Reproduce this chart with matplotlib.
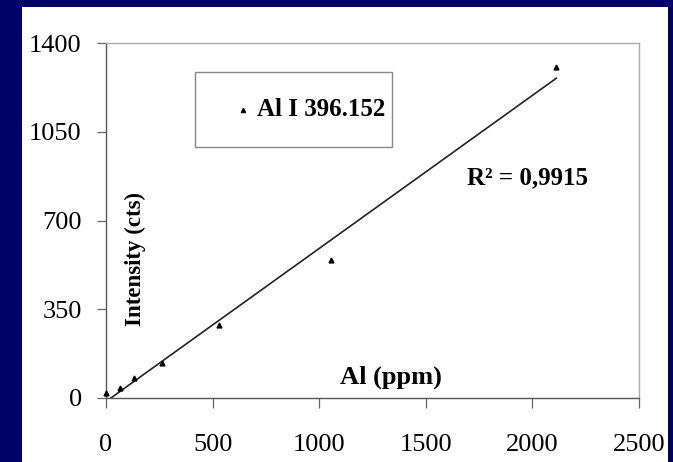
import numpy as np
import matplotlib
matplotlib.use("Agg")
import matplotlib.pyplot as plt
from matplotlib.patches import Rectangle

# Data
conc_ppm = [0, 66, 132, 264, 528, 1056, 2112]
intensity = [20, 40, 79, 139, 286, 544, 1305]
x_ticks = [0, 500, 1000, 1500, 2000, 2500]
y_ticks = [0, 350, 700, 1050, 1400]
series_name = "Al I 396.152"
r2_text = "R² = 0,9915"

serif = ["Liberation Serif", "DejaVu Serif"]

fig = plt.figure(figsize=(6.73, 4.62), dpi=100)
fig.patch.set_facecolor("#000066")
fig.patches.append(Rectangle((22/673, 0), 646/673, 455/462, transform=fig.transFigure,
                             facecolor="white", edgecolor="none", zorder=-10))

ax = fig.add_axes([106/673, 1-398/462, (639-106)/673, (398-43)/462])
ax.set_facecolor("white")

# fit line
a, b = np.polyfit(conc_ppm, intensity, 1)
xl = np.array([0, conc_ppm[-1]])
ax.plot(xl, a*xl + b, color="#222222", lw=1.2, zorder=2)
ax.plot(conc_ppm, intensity, linestyle="none", marker="^", ms=3.5, color="black", zorder=3, clip_on=False)

ax.set_xlim(0, 2500)
ax.set_ylim(0, 1400)
ax.set_xticks(x_ticks)
ax.set_yticks(y_ticks)
for lbl in ax.get_xticklabels() + ax.get_yticklabels():
    lbl.set_family(serif)
    lbl.set_fontsize(19)
ax.tick_params(axis="x", direction="out", length=7, width=0.9, color="#666666", pad=19)
ax.tick_params(axis="y", direction="out", length=6.5, width=0.9, color="#666666", pad=11)

for s in ["top", "right"]:
    ax.spines[s].set_color("#aaaaaa")
    ax.spines[s].set_linewidth(1.0)
for s in ["left", "bottom"]:
    ax.spines[s].set_color("#555555")
    ax.spines[s].set_linewidth(1.0)

# labels inside plot
fig.text(135/673, 1-259/462, "Intensity (cts)", rotation=90,
         ha="center", va="center", family=serif, fontweight="bold", fontsize=16.5)
fig.text(391/673, 1-377/462, "Al (ppm)",
         ha="center", va="center", family=serif, fontweight="bold", fontsize=19)
fig.text(467/673, 1-178/462, r2_text,
         ha="left", va="center", family=serif, fontweight="bold", fontsize=18)

# legend box
fig.patches.append(Rectangle((195/673, 1-147/462), 197/673, 75/462, transform=fig.transFigure,
                             facecolor="white", edgecolor="#888888", lw=1.0, zorder=5))
fig.lines.append(plt.Line2D([243/673], [1-110/462], transform=fig.transFigure, marker="^",
                            ms=3, color="black", linestyle="none", zorder=6))
fig.text(257/673, 1-110/462, series_name, ha="left", va="center", family=serif,
         fontweight="bold", fontsize=18, zorder=6)

fig.savefig("out.png", dpi=100, facecolor=fig.get_facecolor())
